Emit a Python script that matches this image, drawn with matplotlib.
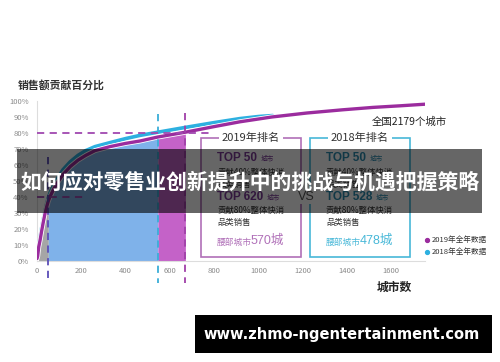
import matplotlib
matplotlib.use("Agg")
import matplotlib.pyplot as plt
import numpy as np
from matplotlib.patches import Rectangle

plt.rcParams['font.family'] = ['Noto Sans CJK SC', 'DejaVu Sans']

# cumulative share of sales (%) vs number of cities
cities_2019 = [0, 3, 8, 14, 20, 28, 36, 44, 51, 60, 72, 90, 117, 150, 185, 220,
               262, 330, 400, 465, 546, 670, 800, 916, 1060, 1219, 1380, 1517, 1640, 1752]
share_2019 = [1.5, 3, 9, 13, 18, 24, 29.5, 34, 37.5, 40.5, 44, 48.5, 54, 59, 63, 66,
              69, 71.5, 73.5, 75, 77.5, 80.5, 84, 87, 90, 92.5, 94.5, 96, 97, 98]
cities_2018 = [0, 3, 8, 14, 20, 28, 36, 44, 51, 60, 72, 90, 117, 150, 185, 220,
               262, 330, 400, 465, 546, 670, 800, 916, 1000, 1065]
share_2018 = [1.5, 3.5, 10, 15, 20, 26, 31, 36, 39.5, 43, 46.5, 51, 57, 62, 66, 69,
              71.5, 74, 76.5, 78.5, 80.5, 83.5, 86.5, 89, 90.3, 90.9]

top_head = 51        # top 50 cities
top80_2018 = 546     # cities making 80% in 2018
top80_2019 = 670     # cities making 80% in 2019

xticks = [0, 200, 400, 600, 800, 1000, 1200, 1400, 1600]
yticks = [0, 10, 20, 30, 40, 50, 60, 70, 80, 90, 100]

PURPLE = "#9B2C9E"
CYAN = "#2DB0E0"

W, H = 500, 362
def fx(px):
    return px / W
def fy(py):
    return 1 - py / H

fig = plt.figure(figsize=(5, 3.62), dpi=100)
fig.patch.set_facecolor("white")
ax = fig.add_axes([fx(37), fy(261), (425 - 37) / W, 160 / H])
ax.set_xlim(0, 1752)
ax.set_ylim(0, 100)

x19 = np.array(cities_2019)
y19 = np.array(share_2019)

ax.fill_between(x19, 0, y19, where=x19 <= top_head, color="#A6A6A6", lw=0)
ax.fill_between(x19, 0, y19, where=(x19 >= top_head) & (x19 <= top80_2018), color="#7FB2EA", lw=0)
ax.fill_between(x19, 0, y19, where=(x19 >= top80_2018) & (x19 <= top80_2019), color="#C462C8", lw=0)

ax.plot(cities_2018, share_2018, color=CYAN, lw=2.6, solid_capstyle="round", zorder=3)
ax.plot(cities_2019, share_2019, color="white", lw=3.6, zorder=4)
ax.plot(cities_2019, share_2019, color=PURPLE, lw=2.4, solid_capstyle="round", zorder=5)

dash = (0, (4, 3))
ax.plot([top_head, top_head], [65, -14], color="#5B4DB8", lw=1.3, ls=dash, clip_on=False, zorder=6)
ax.plot([top80_2018, top80_2018], [92, -14], color="#3AAED8", lw=1.3, ls=dash, clip_on=False, zorder=6)
ax.plot([top80_2019, top80_2019], [92.5, -14], color="#A040A8", lw=1.3, ls=dash, clip_on=False, zorder=6)
ax.plot([0, 221], [40, 40], color="#A048B0", lw=1.3, ls=dash, zorder=6)
ax.plot([0, 781], [80, 80], color="#A048B0", lw=1.3, ls=dash, zorder=6)

for s in ["top", "right"]:
    ax.spines[s].set_visible(False)
for s in ["left", "bottom"]:
    ax.spines[s].set_color("#DDDDDD")
    ax.spines[s].set_linewidth(0.8)
ax.set_xticks(xticks)
ax.set_yticks(yticks)
ax.set_yticklabels([f"{v}%" for v in yticks])
ax.tick_params(length=0, labelsize=5.5, labelcolor="#8A8A8A")
ax.tick_params(axis="x", pad=4)
ax.tick_params(axis="y", pad=6)
ax.set_facecolor("none")

fig.text(fx(18), fy(85), "销售额贡献百分比", fontsize=7.8, fontweight="bold", color="#333333", va="center")
fig.text(fx(409), fy(122), "全国2179个城市", fontsize=7.5, color="#222222", ha="center", va="center")
fig.text(fx(394), fy(287), "城市数", fontsize=8.5, fontweight="bold", color="#222222", ha="center", va="center")

# ranking boxes
boxes = [
    (201, "#B070B8", "2019年排名", "620", "#7D3C98", "570城"),
    (310, "#48B8D8", "2018年排名", "528", "#2C8CB0", "478城"),
]
latin = ["Liberation Sans", "Noto Sans CJK SC"]
for left, edge, title, top80, tcol, waist in boxes:
    fig.add_artist(Rectangle((fx(left), fy(257)), 100 / W, (257 - 138) / H,
                             transform=fig.transFigure, fill=False, ec=edge, lw=1.2))
    fig.text(fx(left + 50), fy(138), title, fontsize=8, color="#333333", ha="center", va="center",
             bbox=dict(boxstyle="square,pad=0.25", fc="white", ec="none"))
    tx = left + 16
    fig.text(fx(tx), fy(158), "TOP 50", fontsize=8.5, fontweight="bold", color=tcol, va="center", family=latin)
    fig.text(fx(tx + 44), fy(159), "城市", fontsize=4.8, color=tcol, va="center")
    fig.text(fx(tx), fy(172), "贡献40%整体快消", fontsize=6, color="#333333", va="center")
    fig.text(fx(tx), fy(184), "品类销售", fontsize=6, color="#333333", va="center")
    fig.text(fx(tx), fy(197), "TOP " + top80, fontsize=8.5, fontweight="bold", color=tcol, va="center", family=latin)
    fig.text(fx(tx + 50), fy(198), "城市", fontsize=4.8, color=tcol, va="center")
    fig.text(fx(tx), fy(210), "贡献80%整体快消", fontsize=6, color="#333333", va="center")
    fig.text(fx(tx), fy(222), "品类销售", fontsize=6, color="#333333", va="center")
    fig.text(fx(tx), fy(242), "腰部城市", fontsize=6.3, color=edge, va="center")
    fig.text(fx(tx + 34), fy(241), waist, fontsize=9, color=edge, va="center", family=latin)

fig.text(fx(306), fy(197), "VS", fontsize=9, color="#555555", ha="center", va="center", family=latin,
         bbox=dict(boxstyle="square,pad=0.1", fc="white", ec="none"))

# legend
for py, col, lab in [(240, PURPLE, "2019年全年数据"), (252, CYAN, "2018年全年数据")]:
    fig.add_artist(plt.Line2D([fx(427)], [fy(py)], marker="o", ms=2.8, color=col, transform=fig.transFigure))
    fig.text(fx(432), fy(py), lab, fontsize=5.5, color="#333333", va="center")

# title banner
fig.add_artist(Rectangle((fx(17), fy(213)), (482 - 17) / W, (213 - 149) / H,
                         transform=fig.transFigure, fc="black", alpha=0.6, ec="none", zorder=20))
fig.text(fx(250), fy(182), "如何应对零售业创新提升中的挑战与机遇把握策略", fontsize=15, fontweight="bold",
         color="white", ha="center", va="center", zorder=21)

# watermark
fig.add_artist(Rectangle((fx(195), fy(353)), (492 - 195) / W, (353 - 315) / H,
                         transform=fig.transFigure, fc="black", ec="none", zorder=20))
fig.text(fx(342), fy(334), "www.zhmo-ngentertainment.com", fontsize=10.5, fontweight="bold",
         color="white", ha="center", va="center", zorder=21, family="DejaVu Sans")

fig.savefig("out.png", dpi=100)
